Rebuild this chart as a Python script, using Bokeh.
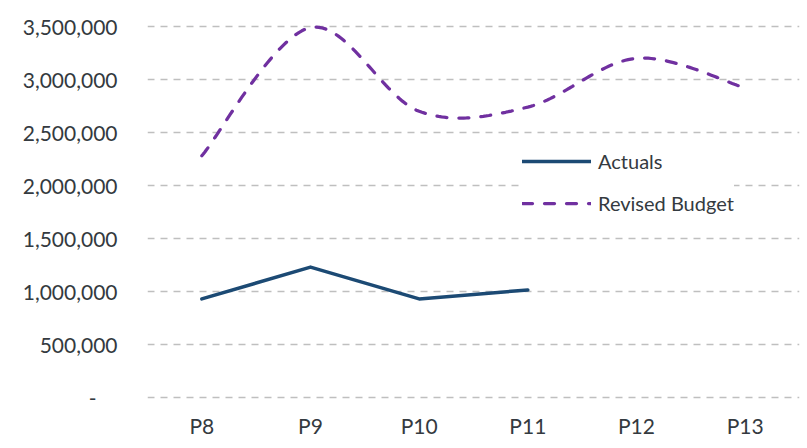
import numpy as np
from bokeh.plotting import figure
from bokeh.models import Range1d, FixedTicker, NumeralTickFormatter, Legend, LegendItem
from bokeh.embed import file_html
from bokeh.resources import INLINE

# Period labels and series values
periods = ["P8", "P9", "P10", "P11", "P12", "P13"]
actuals = [930000, 1230000, 930000, 1015000]
revised_budget = [2280000, 3490000, 2700000, 2740000, 3200000, 2920000]
y_ticks = [0, 500000, 1000000, 1500000, 2000000, 2500000, 3000000, 3500000]

FONT = "Lato"
TEXT = "#343A40"
NAVY = "#1C4A74"
PURPLE = "#7030A0"
GRID = "#BFBFBF"


def smooth(xs, ys, steps=40):
    """Cubic Bezier smoothing through every point (Catmull-Rom style tangents)."""
    xs = np.asarray(xs, float)
    ys = np.asarray(ys, float)
    n = len(xs)
    px = np.concatenate([[xs[0]], xs, [xs[-1]]])
    py = np.concatenate([[ys[0]], ys, [ys[-1]]])
    out_x, out_y = [], []
    t = np.linspace(0, 1, steps)
    for i in range(n - 1):
        j = i + 1
        x0, y0 = px[j], py[j]
        x3, y3 = px[j + 1], py[j + 1]
        x1 = x0 + (px[j + 1] - px[j - 1]) / 6
        y1 = y0 + (py[j + 1] - py[j - 1]) / 6
        x2 = x3 - (px[j + 2] - px[j]) / 6
        y2 = y3 - (py[j + 2] - py[j]) / 6
        a, b, c, d = (1 - t) ** 3, 3 * (1 - t) ** 2 * t, 3 * (1 - t) * t ** 2, t ** 3
        seg_x = a * x0 + b * x1 + c * x2 + d * x3
        seg_y = a * y0 + b * y1 + c * y2 + d * y3
        if i > 0:
            seg_x, seg_y = seg_x[1:], seg_y[1:]
        out_x.extend(seg_x)
        out_y.extend(seg_y)
    return out_x, out_y


pos = np.arange(len(periods)) + 0.5

p = figure(
    width=807, height=448,
    output_backend="svg", toolbar_location=None,
    x_range=Range1d(0, len(periods)),
    y_range=Range1d(-28300, 3556600),
    min_border_left=147, min_border_right=8,
    min_border_top=20, min_border_bottom=48,
    background_fill_color="white", border_fill_color="white",
)
p.outline_line_color = None

# Axes
p.xaxis.ticker = FixedTicker(ticks=list(pos))
p.xaxis.major_label_overrides = {float(x): lab for x, lab in zip(pos, periods)}
p.yaxis.ticker = FixedTicker(ticks=y_ticks)
p.yaxis.formatter = NumeralTickFormatter(format="0,0")
p.yaxis.major_label_overrides = {0: "-\u2002\u2002"}
for ax in (p.xaxis[0], p.yaxis[0]):
    ax.axis_line_color = None
    ax.major_tick_line_color = None
    ax.minor_tick_line_color = None
    ax.major_label_text_font = FONT
    ax.major_label_text_font_size = "21px"
    ax.major_label_text_color = TEXT
p.yaxis.major_label_standoff = 24
p.xaxis.major_label_standoff = 6

# Grid
p.xgrid.grid_line_color = None
p.ygrid.grid_line_color = GRID
p.ygrid.grid_line_width = 1.5
p.ygrid.grid_line_dash = "7 6"

# Series
bx, by = smooth(pos, revised_budget)
r_budget = p.line(bx, by, line_color=PURPLE, line_width=3.25,
                  line_dash="10 12", line_cap="round")
r_actual = p.line(pos[:len(actuals)], actuals, line_color=NAVY, line_width=3.5,
                  line_join="round", line_cap="round")

legend = Legend(
    items=[LegendItem(label="Actuals", renderers=[r_actual]),
           LegendItem(label="Revised Budget", renderers=[r_budget])],
    location=(375, 185),
    orientation="vertical",
    glyph_width=69, glyph_height=24, label_height=24,
    label_standoff=7, spacing=18, padding=14,
    border_line_color=None, background_fill_color="white", background_fill_alpha=1,
    label_text_font=FONT, label_text_font_size="20px", label_text_color=TEXT,
)
p.add_layout(legend, "center")

open("out.html", "w").write(file_html(p, INLINE))
